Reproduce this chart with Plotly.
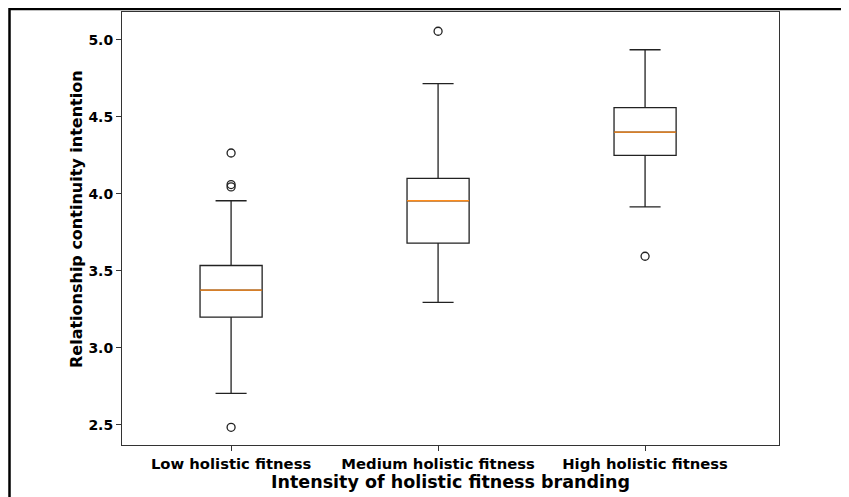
import plotly.graph_objects as go

categories = ["Low holistic fitness", "Medium holistic fitness", "High holistic fitness"]
q1 = [3.20, 3.68, 4.25]
median = [3.375, 3.955, 4.40]
q3 = [3.535, 4.10, 4.56]
lower_whisker = [2.705, 3.295, 3.915]
upper_whisker = [3.955, 4.715, 4.935]
outlier_x = ["Low holistic fitness", "Low holistic fitness", "Low holistic fitness", "Low holistic fitness",
             "Medium holistic fitness", "High holistic fitness"]
outlier_y = [4.265, 4.06, 4.045, 2.485, 5.055, 3.595]
y_ticks = [2.5, 3.0, 3.5, 4.0, 4.5, 5.0]

FONT = "DejaVu Sans"
# page has an 8px body margin; figure spans page pixels 8..849 x 8..497
W, H = 841, 489
L, R, T, B = 114, 70, 4, 52

fig = go.Figure()
fig.add_trace(go.Box(
    x=categories, q1=q1, median=median, q3=q3,
    lowerfence=lower_whisker, upperfence=upper_whisker,
    boxpoints=False, width=0.3, whiskerwidth=0.5,
    line=dict(color="#222222", width=1.3), fillcolor="rgba(0,0,0,0)",
    showlegend=False, hoverinfo="skip",
))
fig.add_trace(go.Box(
    x=categories, q1=median, median=median, q3=median,
    lowerfence=median, upperfence=median,
    boxpoints=False, width=0.3, whiskerwidth=0,
    line=dict(color="#ff8c1a", width=1.3), fillcolor="rgba(0,0,0,0)",
    showlegend=False, hoverinfo="skip",
))
fig.add_trace(go.Scatter(
    x=outlier_x, y=outlier_y, mode="markers",
    marker=dict(symbol="circle-open", size=8, color="#222222", line=dict(width=1.3)),
    showlegend=False, hoverinfo="skip",
))

# figure-pixel to paper helpers (figure pixels = page pixels - 8)
pw, ph = W - L - R, H - T - B
def px(x):
    return (x - L) / pw
def py(y):
    return (H - B - y) / ph

# outer border (top and left edges)
fig.add_shape(type="path", xref="paper", yref="paper",
              path=f"M {px(1.5)} {py(495)} L {px(1.5)} {py(1)} L {px(845)} {py(1)}",
              line=dict(color="black", width=2.5))

# y-axis title
fig.add_annotation(
    text="<b>Relationship continuity intention</b>", textangle=-90,
    xref="paper", yref="paper", x=px(76 - 8), y=py(219 - 8),
    xanchor="center", yanchor="middle", showarrow=False,
    font=dict(family=FONT, size=16, color="black"),
)

fig.update_layout(
    width=W, height=H, margin=dict(l=L, r=R, t=T, b=B),
    paper_bgcolor="white", plot_bgcolor="white",
    boxmode="overlay",
    font=dict(family=FONT, color="black"),
    xaxis=dict(
        type="category", range=[-0.527, 2.647],
        showline=True, mirror=True, linecolor="#333333", linewidth=1,
        ticks="outside", ticklen=5, tickcolor="#333333",
        tickfont=dict(family=FONT, size=14.8, color="black", weight="bold"),
        title=dict(text="<b>Intensity of holistic fitness branding</b>",
                   font=dict(family=FONT, size=17.5, color="black"), standoff=0),
        showgrid=False, zeroline=False,
    ),
    yaxis=dict(
        range=[2.37, 5.18], tickvals=y_ticks, ticktext=[f"{v:.1f}" for v in y_ticks],
        showline=True, mirror=True, linecolor="#333333", linewidth=1,
        ticks="outside", ticklen=5, tickcolor="#333333",
        tickfont=dict(family=FONT, size=14, color="black", weight="bold"),
        showgrid=False, zeroline=False,
    ),
)

fig.write_html("out.html")
